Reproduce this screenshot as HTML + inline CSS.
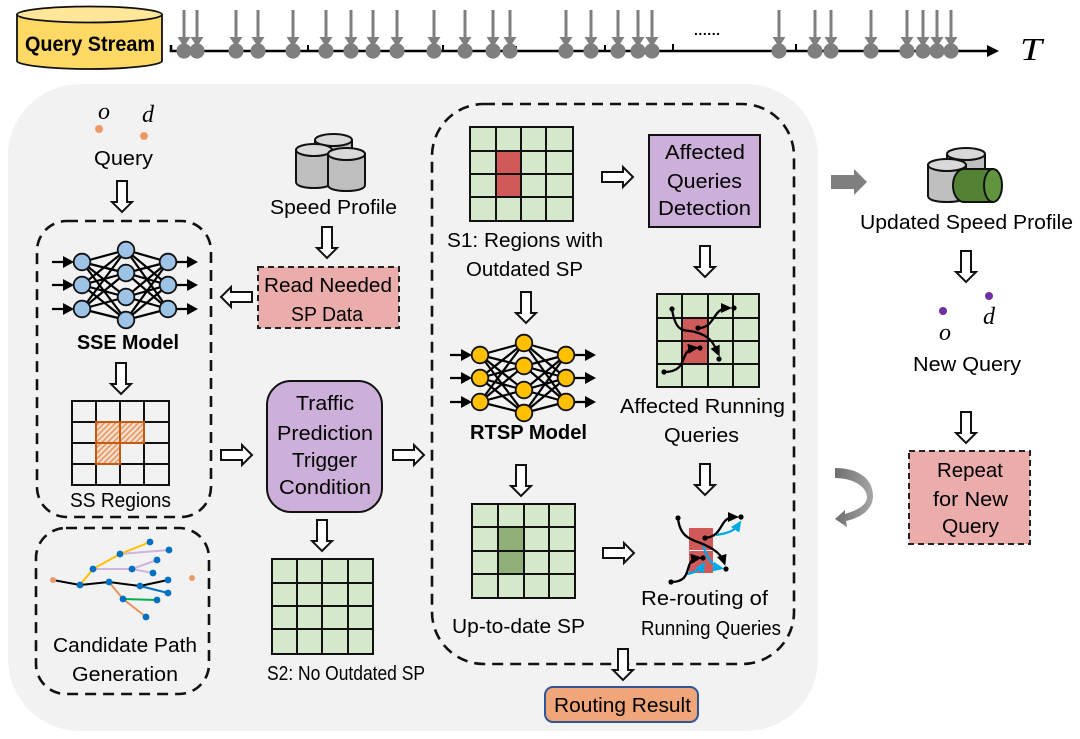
<!DOCTYPE html>
<html>
<head>
<meta charset="utf-8">
<style>
html,body{margin:0;padding:0;background:#fff;width:1080px;height:739px;overflow:hidden}
svg{display:block}
text{font-family:"Liberation Sans",sans-serif;font-size:20px;fill:#000}
.m{font-family:"Liberation Serif",serif;font-style:italic;font-size:24px}
</style>
</head>
<body>
<svg width="1080" height="739" viewBox="0 0 1080 739" xmlns="http://www.w3.org/2000/svg">
<defs>
<pattern id="hatch" width="4" height="4" patternUnits="userSpaceOnUse" patternTransform="rotate(45)">
<rect width="4" height="4" fill="#f8e0cf"/><rect width="1.7" height="4" fill="#e39a66"/>
</pattern>
<linearGradient id="curve" x1="0" y1="0" x2="1" y2="0"><stop offset="0" stop-color="#6e6e6e"/><stop offset="1" stop-color="#a6a6a6"/></linearGradient>
<marker id="mb" markerWidth="11" markerHeight="10" refX="7" refY="5" orient="auto" markerUnits="userSpaceOnUse"><path d="M0 0L11 5L0 10Z" fill="#000"/></marker>
<marker id="mc" markerWidth="11" markerHeight="10" refX="7" refY="5" orient="auto" markerUnits="userSpaceOnUse"><path d="M0 0L11 5L0 10Z" fill="#00a9e6"/></marker>
<path id="ad" d="M-5 0H5V21H10L0 31L-10 21H-5Z" fill="#fff" stroke="#111" stroke-width="2"/>
<g id="tick">
<path d="M0 10V39" stroke="#7f7f7f" stroke-width="3"/>
<path d="M-6.500 37H6.500L0 47Z" fill="#7f7f7f"/>
<circle cx="0" cy="51" r="7.600" fill="#7f7f7f"/>
</g>
<g id="nn">
<path d="M82 262L126 250M82 262L126 273M82 262L126 297M82 262L126 320M82 285L126 250M82 285L126 273M82 285L126 297M82 285L126 320M82 309L126 250M82 309L126 273M82 309L126 297M82 309L126 320M126 250L168 262M126 250L168 285M126 250L168 309M126 273L168 262M126 273L168 285M126 273L168 309M126 297L168 262M126 297L168 285M126 297L168 309M126 320L168 262M126 320L168 285M126 320L168 309" stroke="#000" stroke-width="2.200" fill="none"/>
<path d="M52 262H66M52 285H66M52 309H66M176 262H190M176 285H190M176 309H190" stroke="#000" stroke-width="2.200"/>
<path d="M63 256L74 262L63 268ZM63 279L74 285L63 291ZM63 303L74 309L63 315ZM187 256L198 262L187 268ZM187 279L198 285L187 291ZM187 303L198 309L187 315Z" fill="#000"/>
<g stroke="#111" stroke-width="1.800">
<circle cx="82" cy="262" r="8.300"/><circle cx="82" cy="285" r="8.300"/><circle cx="82" cy="309" r="8.300"/>
<circle cx="126" cy="250" r="8.300"/><circle cx="126" cy="273" r="8.300"/><circle cx="126" cy="297" r="8.300"/><circle cx="126" cy="320" r="8.300"/>
<circle cx="168" cy="262" r="8.300"/><circle cx="168" cy="285" r="8.300"/><circle cx="168" cy="309" r="8.300"/>
</g>
</g>
</defs>

<rect width="1080" height="739" fill="#fff"/>

<!-- Query stream cylinder -->
<path d="M17 15V61C17 65 50 69 89.500 69S162 65 162 61V15Z" fill="#ffd966" stroke="#111" stroke-width="1.800"/>
<ellipse cx="89.500" cy="14.500" rx="72.500" ry="8" fill="#ffe699" stroke="#111" stroke-width="1.800"/>
<text x="25" y="51" font-weight="bold" textLength="130" lengthAdjust="spacingAndGlyphs" style="font-size:21px">Query Stream</text>

<!-- Timeline -->
<path d="M171 45V51H990" stroke="#000" stroke-width="2.600" fill="none"/>
<path d="M240 46V51M308 45V51M377 46V51M443 45V51M516 46V51M605 45V51M673 44V51M796 44V51" stroke="#000" stroke-width="2"/>
<path d="M987 45L999 51L987 57Z" fill="#000"/>
<use href="#tick" x="184"/><use href="#tick" x="197"/><use href="#tick" x="236"/><use href="#tick" x="258"/><use href="#tick" x="293"/><use href="#tick" x="326"/><use href="#tick" x="351"/><use href="#tick" x="373"/><use href="#tick" x="397"/><use href="#tick" x="434"/><use href="#tick" x="465"/><use href="#tick" x="493"/><use href="#tick" x="510"/><use href="#tick" x="566"/><use href="#tick" x="591"/><use href="#tick" x="618"/><use href="#tick" x="638"/><use href="#tick" x="652"/><use href="#tick" x="779"/><use href="#tick" x="815"/><use href="#tick" x="831"/><use href="#tick" x="871"/><use href="#tick" x="907"/><use href="#tick" x="923"/><use href="#tick" x="937"/><use href="#tick" x="951"/>
<text x="694" y="35" font-weight="bold" textLength="26" style="font-size:14px">......</text>
<text x="1020" y="60" style="font-family:'Liberation Serif',serif;font-style:italic;font-size:32px" textLength="22" lengthAdjust="spacingAndGlyphs">T</text>

<!-- Panel -->
<rect x="8" y="84" width="810" height="647" rx="72" fill="#f2f2f2"/>

<!-- Query -->
<text class="m" x="98" y="119">o</text>
<text class="m" x="142" y="122">d</text>
<circle cx="99" cy="129" r="4" fill="#ed9a67"/>
<circle cx="144" cy="136" r="4" fill="#ed9a67"/>
<text x="94" y="165" textLength="59" lengthAdjust="spacingAndGlyphs">Query</text>
<use href="#ad" x="122" y="181"/>

<!-- SSE box -->
<rect x="37" y="221" width="174" height="296" rx="30" fill="none" stroke="#111" stroke-width="2.600" stroke-dasharray="11 7"/>
<use href="#nn" fill="#9dc3e6"/>
<text x="77" y="349" font-weight="bold" textLength="102" lengthAdjust="spacingAndGlyphs">SSE Model</text>
<use href="#ad" x="121" y="363"/>
<rect x="96" y="422" width="48" height="21" fill="url(#hatch)"/>
<rect x="96" y="443" width="24" height="21" fill="url(#hatch)"/>
<path d="M72 401H169V485H72ZM96 401V485M120 401V485M144 401V485M72 422H169M72 443H169M72 464H169" fill="none" stroke="#111" stroke-width="2"/>
<path d="M96 422H144V443H120V464H96ZM96 443H120M120 422V443" fill="none" stroke="#c55a11" stroke-width="2"/>
<text x="70" y="507" textLength="101" lengthAdjust="spacingAndGlyphs">SS Regions</text>

<!-- Candidate path box -->
<rect x="36" y="528" width="173" height="166" rx="30" fill="none" stroke="#111" stroke-width="2.600" stroke-dasharray="11 7"/>
<g fill="none" stroke-width="2">
<path d="M120 554L169 550M93 569H132L157 560M132 569L153 573" stroke="#cdb5dc"/>
<path d="M80 585L93 569L120 554L150 542" stroke="#ffc000"/>
<path d="M109 582L123 599L146 617" stroke="#e8935f"/>
<path d="M123 599L157 600" stroke="#00b050"/>
<path d="M140 586L168 593" stroke="#0070c0"/>
<path d="M53 580L80 585L109 582L140 586L168 580" stroke="#000"/>
</g>
<g fill="#0070c0">
<circle cx="80" cy="585" r="3.400"/><circle cx="109" cy="582" r="3.400"/><circle cx="140" cy="586" r="3.400"/><circle cx="168" cy="580" r="3.400"/><circle cx="168" cy="593" r="3.400"/><circle cx="123" cy="599" r="3.400"/><circle cx="146" cy="617" r="3.400"/><circle cx="157" cy="600" r="3.400"/><circle cx="93" cy="569" r="3.400"/><circle cx="120" cy="554" r="3.400"/><circle cx="150" cy="542" r="3.400"/><circle cx="169" cy="550" r="3.400"/><circle cx="132" cy="569" r="3.400"/><circle cx="157" cy="560" r="3.400"/><circle cx="153" cy="573" r="3.400"/>
</g>
<circle cx="53" cy="580" r="3" fill="#ed9a67"/>
<circle cx="192" cy="578" r="3" fill="#ed9a67"/>
<text x="53" y="652" textLength="144" lengthAdjust="spacingAndGlyphs">Candidate Path</text>
<text x="72" y="681" textLength="106" lengthAdjust="spacingAndGlyphs">Generation</text>

<!-- Speed profile -->
<g stroke="#111" stroke-width="2">
<path d="M315 140V175H352V140" fill="#bfbfbf"/><ellipse cx="333.500" cy="140" rx="18.500" ry="6" fill="#d9d9d9"/>
<path d="M296 150V182C296 186 304 188 314 188S332 186 332 182V150Z" fill="#bfbfbf"/><ellipse cx="314" cy="150" rx="18" ry="6" fill="#d9d9d9"/>
<path d="M328 154V185C328 189 336 191 346.500 191S365 189 365 185V154Z" fill="#bfbfbf"/><ellipse cx="346.500" cy="154" rx="18.500" ry="6" fill="#d9d9d9"/>
</g>
<text x="270" y="214" textLength="127" lengthAdjust="spacingAndGlyphs">Speed Profile</text>
<use href="#ad" x="327" y="227"/>
<rect x="258" y="267" width="141" height="61" fill="#ebacac" stroke="#222" stroke-width="2" stroke-dasharray="6 4"/>
<text x="264" y="292" textLength="128" lengthAdjust="spacingAndGlyphs">Read Needed</text>
<text x="291" y="321" textLength="72" lengthAdjust="spacingAndGlyphs">SP Data</text>
<use href="#ad" transform="translate(252 297) rotate(90)"/>

<!-- Traffic -->
<rect x="267" y="381" width="115" height="131" rx="24" fill="#cdb0da" stroke="#111" stroke-width="2"/>
<text x="296" y="410" textLength="58" lengthAdjust="spacingAndGlyphs">Traffic</text>
<text x="277" y="440" textLength="96" lengthAdjust="spacingAndGlyphs">Prediction</text>
<text x="292" y="467" textLength="65" lengthAdjust="spacingAndGlyphs">Trigger</text>
<text x="279" y="494" textLength="92" lengthAdjust="spacingAndGlyphs">Condition</text>
<use href="#ad" transform="translate(221 455) rotate(-90)"/>
<use href="#ad" transform="translate(393 455) rotate(-90)"/>
<use href="#ad" x="322" y="520"/>
<rect x="272" y="559" width="101" height="95" fill="#d5e8cb"/>
<path d="M272 559H373V654H272ZM297 559V654M322 559V654M348 559V654M272 583H373M272 606H373M272 629H373" fill="none" stroke="#111" stroke-width="2"/>
<text x="267" y="680" textLength="158" lengthAdjust="spacingAndGlyphs">S2: No Outdated SP</text>

<!-- Big dashed box -->
<rect x="432" y="104" width="362" height="560" rx="52" fill="none" stroke="#111" stroke-width="2.600" stroke-dasharray="11 7"/>

<!-- S1 -->
<rect x="470" y="127" width="103" height="94" fill="#d5e8cb"/>
<rect x="496" y="151" width="25" height="46" fill="#d05a5a"/>
<path d="M470 127H573V221H470ZM496 127V221M521 127V221M546 127V221M470 151H573M470 174H573M470 197H573" fill="none" stroke="#111" stroke-width="2"/>
<text x="447" y="247" textLength="156" lengthAdjust="spacingAndGlyphs">S1: Regions with</text>
<text x="466" y="276" textLength="117" lengthAdjust="spacingAndGlyphs">Outdated SP</text>
<use href="#ad" transform="translate(602 177) rotate(-90)"/>
<rect x="649" y="135" width="111" height="92" fill="#cdb0da" stroke="#111" stroke-width="2"/>
<text x="665" y="159" textLength="80" lengthAdjust="spacingAndGlyphs">Affected</text>
<text x="667" y="188" textLength="75" lengthAdjust="spacingAndGlyphs">Queries</text>
<text x="658" y="215" textLength="93" lengthAdjust="spacingAndGlyphs">Detection</text>
<use href="#ad" x="705" y="246"/>
<use href="#ad" x="526" y="292"/>

<!-- RTSP -->
<use href="#nn" transform="translate(398 93)" fill="#ffc000"/>
<text x="470" y="439" font-weight="bold" textLength="117" lengthAdjust="spacingAndGlyphs">RTSP Model</text>

<!-- Affected grid -->
<rect x="657" y="294" width="102" height="93" fill="#d5e8cb"/>
<rect x="682" y="318" width="26" height="46" fill="#d05a5a"/>
<path d="M657 294H759V387H657ZM682 294V387M708 294V387M733 294V387M657 318H759M657 341H759M657 364H759" fill="none" stroke="#111" stroke-width="2"/>
<g fill="none" stroke="#000" stroke-width="2.300">
<path d="M672 309C676 335 685 329 695 332C710 336 713 342 718 353" marker-end="url(#mb)"/>
<path d="M698 328C716 328 712 308 728 308" marker-end="url(#mb)"/>
<path d="M664 372C690 372 678 350 695 348" marker-end="url(#mb)"/>
</g>
<circle cx="672" cy="309" r="2.600"/><circle cx="719" cy="359" r="2.600"/><circle cx="698" cy="328" r="2.600"/><circle cx="734" cy="308" r="2.600"/><circle cx="664" cy="372" r="2.600"/><circle cx="700" cy="348" r="2.600"/>
<text x="620" y="413" textLength="165" lengthAdjust="spacingAndGlyphs">Affected Running</text>
<text x="664" y="442" textLength="75" lengthAdjust="spacingAndGlyphs">Queries</text>
<use href="#ad" x="705" y="464"/>

<!-- Up to date -->
<use href="#ad" x="521" y="465"/>
<rect x="472" y="504" width="103" height="94" fill="#d5e8cb"/>
<rect x="498" y="527" width="26" height="47" fill="#8fae78"/>
<path d="M472 504H575V598H472ZM498 504V598M524 504V598M549 504V598M472 527H575M472 551H575M472 574H575" fill="none" stroke="#111" stroke-width="2"/>
<text x="452" y="633" textLength="133" lengthAdjust="spacingAndGlyphs">Up-to-date SP</text>
<use href="#ad" transform="translate(603 553) rotate(-90)"/>

<!-- Re-routing -->
<rect x="689" y="528" width="24" height="22" fill="#d05a5a"/>
<rect x="689" y="551" width="24" height="22" fill="#d05a5a"/>
<g fill="none" stroke-width="2.300">
<path d="M716 535C730 533 735 530 739 524" stroke="#00a9e6" marker-end="url(#mc)"/>
<path d="M686 574C695 573 700 570 703 565" stroke="#00a9e6" marker-end="url(#mc)"/>
<path d="M703 543C705 558 715 567 720 568" stroke="#00a9e6" marker-end="url(#mc)"/>
<path d="M678 518C680 540 695 540 705 545C716 550 722 556 724 562" stroke="#000" marker-end="url(#mb)"/>
<path d="M705 538C725 536 718 517 735 517" stroke="#000" marker-end="url(#mb)"/>
<path d="M671 582C695 582 682 560 698 558" stroke="#000" marker-end="url(#mb)"/>
</g>
<circle cx="678" cy="518" r="2.600"/><circle cx="726" cy="569" r="2.600"/><circle cx="705" cy="538" r="2.600"/><circle cx="741" cy="517" r="2.600"/><circle cx="671" cy="582" r="2.600"/><circle cx="703" cy="558" r="2.600"/>
<text x="641" y="605" textLength="127" lengthAdjust="spacingAndGlyphs">Re-routing of</text>
<text x="641" y="635" textLength="140" lengthAdjust="spacingAndGlyphs">Running Queries</text>

<!-- Routing result -->
<use href="#ad" x="623" y="649"/>
<rect x="545" y="687" width="153" height="35" rx="8" fill="#f0a679" stroke="#2f5597" stroke-width="2"/>
<text x="554" y="712" textLength="137" lengthAdjust="spacingAndGlyphs">Routing Result</text>

<!-- Right side -->
<path d="M831 175H854V169L867 182L854 195V189H831Z" fill="#7f7f7f"/>
<g stroke="#111" stroke-width="2">
<path d="M947 154V190H985V154" fill="#bfbfbf"/><ellipse cx="966" cy="154" rx="19" ry="6" fill="#d9d9d9"/>
<path d="M928 165V196C928 200 936 202 947 202S966 200 966 196V165Z" fill="#bfbfbf"/><ellipse cx="947" cy="165" rx="19" ry="6" fill="#d9d9d9"/>
<path d="M993 169H964A11 16.500 0 0 0 964 202H993Z" fill="#548235"/><ellipse cx="993" cy="185.500" rx="9" ry="16.500" fill="#62943f"/>
</g>
<text x="860" y="229" textLength="213" lengthAdjust="spacingAndGlyphs">Updated Speed Profile</text>
<use href="#ad" x="966" y="251"/>
<circle cx="943" cy="311" r="4" fill="#7030a0"/>
<circle cx="989" cy="296" r="4" fill="#7030a0"/>
<text class="m" x="983" y="324">d</text>
<text class="m" x="939" y="340">o</text>
<text x="913" y="371" textLength="108" lengthAdjust="spacingAndGlyphs">New Query</text>
<use href="#ad" x="966" y="412"/>
<rect x="909" y="451" width="121" height="93" fill="#ebacac" stroke="#222" stroke-width="2" stroke-dasharray="6 4"/>
<text x="937" y="477" textLength="66" lengthAdjust="spacingAndGlyphs">Repeat</text>
<text x="933" y="506" textLength="75" lengthAdjust="spacingAndGlyphs">for New</text>
<text x="942" y="533" textLength="57" lengthAdjust="spacingAndGlyphs">Query</text>
<path d="M835 468C860 468 873 480 873 496C873 510 860 518 846 521L847 527L835 519L845 510L845 514C858 510 867 505 867 497C867 488 855 478 835 478Z" fill="url(#curve)"/>
</svg>
</body>
</html>
